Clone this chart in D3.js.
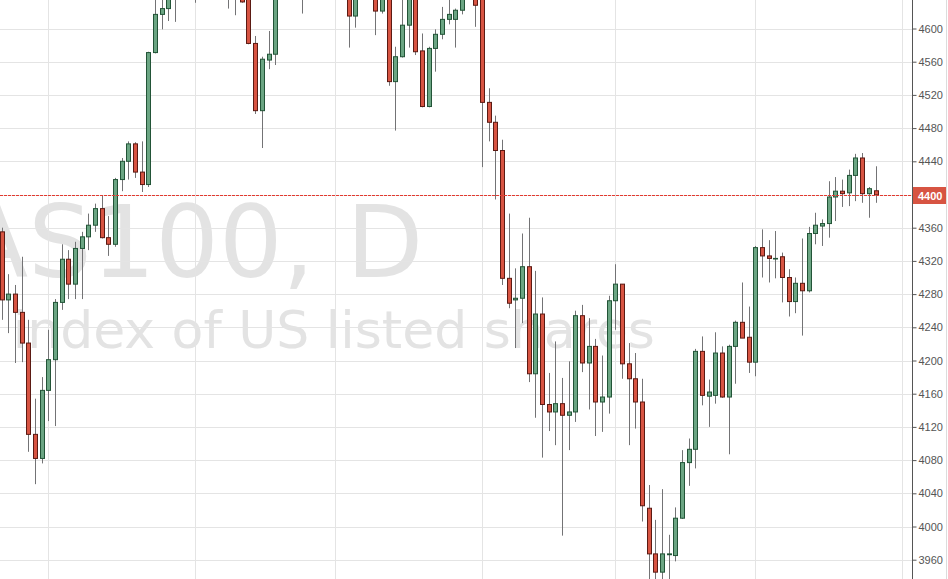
<!DOCTYPE html>
<html>
<head>
<meta charset="utf-8">
<script src="https://cdn.jsdelivr.net/npm/d3@7/dist/d3.min.js"></script>
<style>
  html, body { margin: 0; padding: 0; background: #fff; }
  svg { display: block; }
</style>
</head>
<body>
<svg id="chart" width="948" height="579"></svg>
<script>
// ---- data (NAS100, daily) ----
const open = [
  4355,4273,4280,4258,4221,4111,4082,4164,4201,4270,
  4322,4292,4335,4349,4363,4383,4348,4340,4418,4440,
  4461,4427,4412,4571,4617,4624,4650,4642,4660,4652,
  4672,4665,4688,4670,4660,4655,4650,4636,4582,4501,
  4562,4569,4640,4652,4665,4660,4650,4668,4682,4675,
  4660,4670,4645,4615,4642,4660,4648,4621,4640,4536,
  4566,4604,4637,4573,4506,4576,4593,4611,4611,4622,
  4640,4652,4636,4511,4487,4453,4299,4273,4275,4313,
  4184,4256,4147,4138,4148,4134,4138,4254,4197,4217,
  4150,4156,4272,4292,4196,4178,4150,4022,3967,3945,
  3966,3965,4010,4077,4093,4211,4157,4158,4209,4156,
  4217,4246,4228,4198,4336,4326,4323,4325,4300,4271,
  4293,4284,4353,4362,4365,4397,4404,4402,4423,4444,
  4401,4404.5
];
const high = [
  4360,4304,4291,4325,4249,4154,4180,4237,4274,4340,
  4333,4343,4355,4377,4389,4399,4374,4420,4444,4464,
  4463,4464,4572,4637,4640,4652,4660,4668,4675,4680,
  4690,4695,4700,4685,4678,4672,4660,4640,4591,4566,
  4597,4645,4660,4672,4680,4670,4675,4690,4700,4692,
  4680,4685,4652,4650,4668,4675,4655,4648,4645,4578,
  4637,4643,4642,4594,4578,4599,4626,4637,4624,4650,
  4660,4658,4640,4528,4495,4466,4377,4311,4353,4372,
  4308,4276,4185,4223,4179,4199,4260,4267,4251,4226,
  4206,4278,4316,4292,4221,4209,4178,4050,4008,4045,
  3990,4023,4092,4106,4214,4229,4177,4234,4217,4219,
  4248,4294,4265,4338,4358,4345,4356,4330,4310,4300,
  4347,4361,4378,4370,4416,4421,4418,4430,4449,4450,
  4409,4434
];
const low = [
  4249,4233,4197,4198,4090,4051,4076,4127,4121,4261,
  4274,4274,4274,4333,4355,4347,4326,4337,4404,4418,
  4420,4403,4409,4570,4599,4609,4608,4636,4638,4631,
  4650,4655,4660,4645,4624,4616,4631,4581,4497,4456,
  4551,4556,4636,4640,4645,4618,4640,4655,4662,4650,
  4645,4640,4577,4601,4636,4640,4592,4618,4531,4477,
  4565,4577,4568,4505,4505,4548,4587,4605,4577,4617,
  4636,4602,4433,4464,4394,4291,4263,4215,4245,4174,
  4131,4083,4115,4098,3989,4092,4126,4186,4141,4109,
  4114,4136,4237,4178,4098,4118,4006,3929,3933,3935,
  3933,3958,4009,4049,4070,4146,4120,4148,4155,4087,
  4172,4227,4185,4181,4300,4294,4299,4270,4253,4257,
  4230,4282,4340,4338,4348,4368,4385,4386,4392,4390,
  4372,4390
];
const close = [
  4273,4280,4258,4221,4111,4082,4164,4201,4270,4322,
  4292,4335,4349,4363,4383,4348,4340,4418,4440,4461,
  4427,4412,4571,4617,4624,4646,4640,4660,4650,4672,
  4665,4688,4670,4660,4655,4645,4632,4582,4501,4563,
  4569,4640,4652,4665,4660,4650,4668,4682,4675,4660,
  4670,4648,4615,4642,4660,4648,4621,4640,4536,4566,
  4604,4637,4572,4506,4576,4593,4611,4617,4622,4640,
  4652,4628,4511,4487,4453,4299,4269,4275,4313,4184,
  4256,4147,4138,4148,4134,4138,4254,4197,4217,4150,
  4156,4272,4292,4196,4178,4150,4025,3967,3945,3967,
  3967,4010,4077,4093,4211,4158,4162,4209,4156,4217,
  4246,4227,4198,4336,4326,4323,4323,4300,4271,4293,
  4284,4353,4363,4365,4397,4404,4401,4423,4444,4401,
  4407,4399.6
];
// bar index where a new month starts (vertical grid lines)
const monthStarts = [7, 29, 50, 72, 92, 113, 135];
// price axis tick labels
const yTicks = [3960,4000,4040,4080,4120,4160,4200,4240,4280,4320,4360,4400,4440,4480,4520,4560,4600];
const symbolTitle = "NAS100, D";
const symbolDesc = "100 index of US listed shares";

// ---- layout ----
const W = 948, H = 579, axisX = 912;
const svg = d3.select("#chart");

const n = close.length;
const x = d3.scaleLinear().domain([0, n - 1]).range([1.7, 875.5]);
const y = d3.scaleLinear().domain([3960, 4600]).range([559.7, 28.5]);

const bars = d3.range(n).map(i => ({ i, o: open[i], h: high[i], l: low[i], c: close[i] }));

svg.append("rect").attr("width", W).attr("height", H).attr("fill", "#ffffff");

// watermark
svg.append("text")
  .attr("x", -115).attr("y", 277)
  .attr("font-family", "DejaVu Sans")
  .attr("font-size", 100)
  .attr("fill", "#e3e3e3")
  .text(symbolTitle);
svg.append("text")
  .attr("x", -103).attr("y", 348)
  .attr("font-family", "DejaVu Sans")
  .attr("font-size", 52)
  .attr("fill", "#e3e3e3")
  .text(symbolDesc);

// grid
const grid = svg.append("g").attr("stroke", "#e4e4e4").attr("stroke-width", 1);
grid.selectAll("line.h").data(yTicks).join("line")
  .attr("class", "h")
  .attr("x1", 0).attr("x2", axisX)
  .attr("y1", d => Math.round(y(d)) + 0.5).attr("y2", d => Math.round(y(d)) + 0.5);
grid.selectAll("line.v").data(monthStarts).join("line")
  .attr("class", "v")
  .attr("y1", 0).attr("y2", H)
  .attr("x1", d => Math.round(x(d)) + 0.5).attr("x2", d => Math.round(x(d)) + 0.5);

// candles
const upFill = "#6ba583", upLine = "#225437", dnFill = "#d75442", dnLine = "#5b1a13", wick = "#737375";
const cx = d => Math.round(x(d.i)) + 0.5;
const g = svg.append("g");
g.selectAll("line.wick").data(bars).join("line")
  .attr("class", "wick")
  .attr("x1", cx).attr("x2", cx)
  .attr("y1", d => y(d.h)).attr("y2", d => y(d.l))
  .attr("stroke", wick).attr("stroke-width", 1);
g.selectAll("rect.body").data(bars).join("rect")
  .attr("class", "body")
  .attr("x", d => cx(d) - 2)
  .attr("width", 4)
  .attr("y", d => y(Math.max(d.o, d.c)))
  .attr("height", d => Math.max(0.6, Math.abs(y(d.o) - y(d.c))))
  .attr("fill", d => d.c >= d.o ? upFill : dnFill)
  .attr("stroke", d => d.c >= d.o ? upLine : dnLine)
  .attr("stroke-width", 1);

// last price line
const last = close[n - 1];
const ly = Math.round(y(last)) + 0.5;
svg.append("line")
  .attr("x1", 0).attr("x2", axisX)
  .attr("y1", ly).attr("y2", ly)
  .attr("stroke", "#e23a30").attr("stroke-width", 1)
  .attr("stroke-dasharray", "3,1")
  .attr("shape-rendering", "crispEdges");

// price axis
svg.append("line")
  .attr("x1", axisX + 0.5).attr("x2", axisX + 0.5)
  .attr("y1", 0).attr("y2", H)
  .attr("stroke", "#555").attr("stroke-width", 1);
svg.append("line")
  .attr("x1", 946.5).attr("x2", 946.5)
  .attr("y1", 0).attr("y2", H)
  .attr("stroke", "#dcdcdc").attr("stroke-width", 1);

const axis = d3.axisRight(y).tickValues(yTicks).tickSize(4).tickSizeOuter(0).tickPadding(2)
  .tickFormat(d3.format("d"));
const ag = svg.append("g").attr("transform", `translate(${axisX + 0.5},0)`).call(axis);
ag.select(".domain").remove();
ag.selectAll(".tick line").attr("stroke", "#555");
ag.selectAll(".tick text")
  .attr("font-family", "Liberation Sans, Arial, sans-serif")
  .attr("font-size", 11)
  .attr("fill", "#555");

// last price label
svg.append("rect")
  .attr("x", axisX + 1).attr("y", ly - 8.5)
  .attr("width", 946 - axisX - 1).attr("height", 17)
  .attr("fill", "#d75442");
svg.append("text")
  .attr("x", axisX + 6).attr("y", ly + 4)
  .attr("font-family", "Liberation Sans, Arial, sans-serif")
  .attr("font-size", 11)
  .attr("font-weight", "bold")
  .attr("fill", "#ffffff")
  .text(d3.format(".0f")(last));
</script>
</body>
</html>
